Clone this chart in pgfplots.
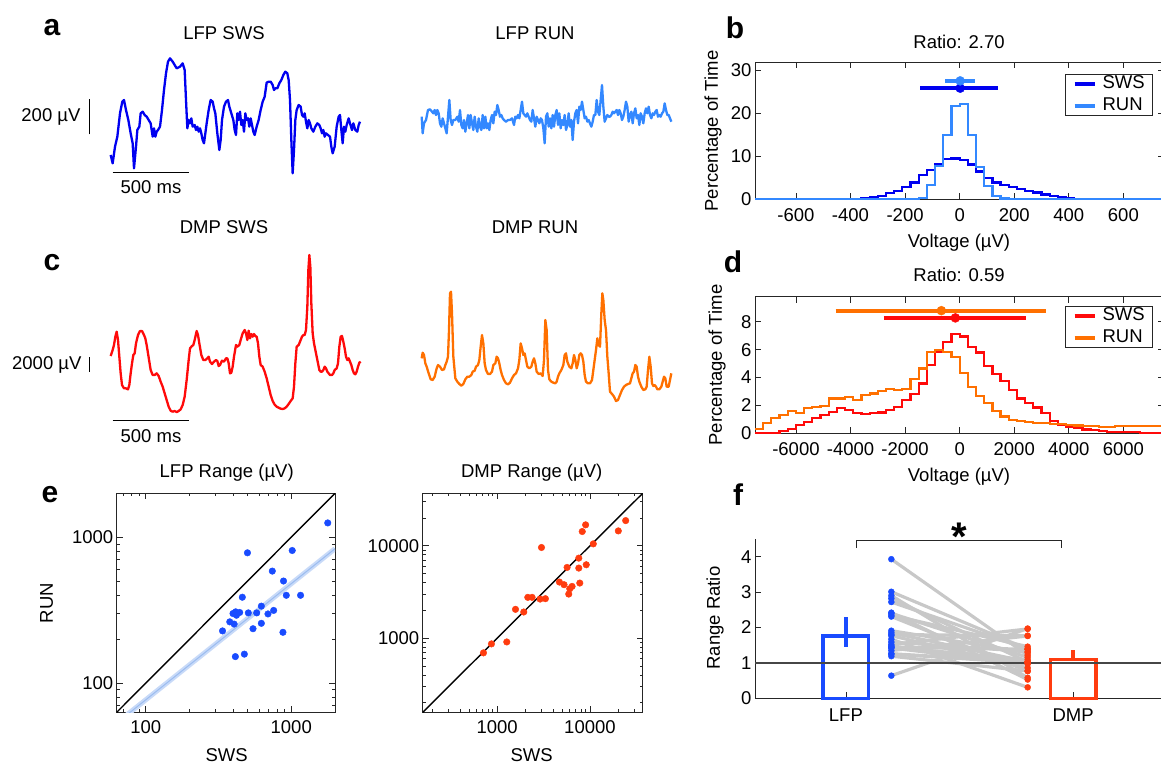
\documentclass[border=0pt]{standalone}
\usepackage{fontspec}
\setmainfont{Liberation Sans}
\usepackage{pgfplots}
\pgfplotsset{compat=1.18}

\definecolor{lfpsws}{RGB}{0,0,240}
\definecolor{lfprun}{RGB}{51,136,255}
\definecolor{dmpsws}{RGB}{255,10,10}
\definecolor{dmprun}{RGB}{255,112,0}
\definecolor{ptblue}{RGB}{25,75,255}
\definecolor{ptred}{RGB}{255,60,15}
\definecolor{regband}{RGB}{200,218,248}
\definecolor{regline}{RGB}{155,188,240}
\definecolor{axgray}{RGB}{38,38,38}
\definecolor{pairgray}{RGB}{200,200,200}
\definecolor{onegray}{RGB}{70,70,70}

\newcommand\fs{\fontsize{18.5}{21}\selectfont}
\newcommand\plab{\fontsize{30}{32}\selectfont\bfseries}

\pgfplotsset{
  mat/.style={
    scale only axis, anchor=south west,
    axis line style={draw=axgray, line width=0.8pt},
    every tick/.style={draw=axgray, line width=0.8pt},
    tick align=inside, major tick length=6pt, minor tick length=3pt,
    ticklabel style={font=\fs, text=black},
    /pgf/number format/assume math mode=true,
  },
  trace/.style={hide axis, scale only axis, anchor=south west, clip=false, xmin=0, ymin=0},
  hist/.style={const plot, line width=2.2pt, line join=miter},
  histlegend/.style={
    legend image code/.code={\draw[##1, line width=3.6pt] (0pt,0pt) -- (20pt,0pt);},
    legend cell align=left,
    legend style={anchor=north east, draw=axgray, line width=0.8pt, font=\fs,
      inner xsep=8pt, inner ysep=1pt, row sep=5pt,
      nodes={inner sep=0pt, text height=13.5pt, text depth=3.5pt},
      /tikz/every odd column/.append style={column sep=6pt}},
  },
}

\begin{document}
\begin{tikzpicture}
\path[use as bounding box] (0pt,0pt) rectangle (1161pt,-766pt);
\clip (0pt,0pt) rectangle (1161pt,-766pt);

% ---------------- a: LFP traces
\begin{axis}[trace, at={(0pt,-200pt)}, width=400pt, height=200pt, xmax=1200, ymax=600]
\addplot[lfpsws, line width=2.3pt, line join=round] coordinates {
(332,135) (338,110) (345,160) (352,190) (360,260) (367,295) (372,300) (378,270) (385,240) (392,200)
(398,170) (402,95) (408,160) (412,210) (418,220) (422,260) (428,265) (434,255) (440,250) (446,240)
(452,230) (458,190) (462,215) (466,190) (470,205) (474,210) (480,220) (486,270) (492,330) (498,380)
(504,415) (510,425) (518,415) (524,405) (530,395) (540,400) (548,410) (554,390) (558,300) (562,215)
(566,240) (570,230) (574,245) (578,220) (584,225) (588,210) (592,220) (596,205) (600,215) (604,200)
(608,180) (612,170) (616,200) (620,230) (626,270) (632,300) (638,295) (642,275) (646,260) (652,200)
(658,150) (662,180) (666,240) (672,280) (678,295) (684,300) (688,280) (694,260) (700,240) (704,210)
(708,195) (712,260) (716,240) (720,265) (724,225) (728,240) (732,205) (736,260) (740,240) (744,245)
(748,220) (752,245) (756,225) (760,205) (764,195) (770,220) (776,240) (782,270) (788,295) (794,310)
(800,352) (806,355) (812,355) (818,345) (822,330) (826,335) (832,335) (838,350) (844,360) (850,375)
(856,385) (862,380) (866,360) (870,300) (874,180) (878,80) (882,150) (886,240) (890,270) (896,285)
(902,280) (906,255) (910,250) (914,260) (918,235) (922,215) (926,240) (930,230) (934,215) (940,205)
(946,220) (952,230) (958,225) (962,215) (966,200) (970,210) (974,190) (978,200) (984,195) (990,190)
(994,160) (998,140) (1004,160) (1010,220) (1016,250) (1020,255) (1024,210) (1028,170) (1032,220) (1036,205)
(1040,225) (1046,245) (1050,230) (1056,210) (1060,230) (1066,210) (1072,205) (1076,225) (1080,235)};
\draw[black, line width=1.3pt] (axis cs:268,197) -- (axis cs:268,303);
\draw[black, line width=1.3pt] (axis cs:338,82) -- (axis cs:568,82);
\node[font=\fs, anchor=east, inner sep=0pt] at (axis cs:242,250) {200 µV};
\node[font=\fs] at (axis cs:453,40) {500 ms};
\end{axis}

\begin{axis}[trace, at={(400pt,-200pt)}, width=300pt, height=200pt, xmax=900, ymax=600]
\addplot[lfprun, line width=2.3pt, line join=round] coordinates {
(65,250) (68,200) (72,230) (78,240) (84,270) (90,272) (96,265) (100,260) (104,270) (108,255)
(112,270) (116,260) (120,230) (124,220) (128,245) (132,230) (136,215) (140,200) (144,250) (148,300)
(152,240) (156,225) (160,240) (166,240) (172,250) (176,235) (180,270) (184,225) (188,215) (192,240)
(196,205) (200,230) (204,255) (208,215) (212,255) (216,230) (220,210) (224,250) (228,220) (232,205)
(236,245) (240,220) (244,210) (248,255) (252,215) (256,250) (260,215) (264,230) (268,210) (272,240)
(276,255) (280,230) (284,265) (288,255) (292,285) (296,270) (300,250) (304,255) (308,245) (312,240)
(318,235) (324,240) (330,240) (336,245) (342,225) (346,250) (350,245) (354,255) (358,245) (362,270)
(366,295) (370,260) (374,255) (378,250) (382,260) (386,250) (390,240) (394,235) (398,270) (402,245)
(406,220) (410,250) (414,240) (418,230) (422,245) (426,240) (430,215) (434,170) (438,250) (442,260)
(446,220) (450,245) (454,215) (458,255) (462,220) (466,255) (470,270) (474,225) (478,260) (482,215)
(486,240) (490,225) (494,255) (498,210) (502,225) (506,260) (510,220) (514,240) (518,180) (522,235)
(526,260) (530,270) (534,230) (538,280) (542,270) (546,295) (550,270) (554,245) (558,250) (562,235)
(566,240) (570,230) (574,220) (578,235) (582,255) (586,255) (590,300) (594,265) (598,255) (602,300)
(606,345) (610,280) (614,235) (618,245) (622,255) (626,250) (630,250) (634,255) (638,265) (642,260)
(646,265) (650,270) (654,255) (658,270) (662,260) (666,240) (670,250) (674,270) (678,295) (682,280)
(686,235) (690,255) (694,265) (698,230) (702,260) (706,275) (710,245) (714,255) (718,225) (722,260)
(726,250) (730,230) (734,260) (738,275) (742,260) (746,280) (750,255) (754,245) (758,260) (762,255)
(766,265) (770,270) (774,250) (778,255) (782,250) (786,260) (790,265) (794,290) (798,270) (802,255)
(806,255) (810,245) (814,235)};
\end{axis}

% ---------------- c: DMP traces
\begin{axis}[trace, at={(0pt,-450pt)}, width=400pt, height=220pt, xmax=1200, ymax=660]
\addplot[dmpsws, line width=2.3pt, line join=round] coordinates {
(332,282) (338,300) (342,315) (346,340) (350,355) (354,330) (358,280) (362,230) (366,195) (372,185)
(378,185) (384,182) (388,195) (392,230) (396,260) (400,285) (404,290) (408,320) (414,345) (420,357)
(426,357) (432,345) (436,335) (440,315) (444,290) (448,265) (452,240) (458,225) (464,225) (470,230)
(476,222) (482,205) (488,190) (494,170) (500,150) (506,130) (512,118) (518,115) (524,117) (530,114)
(536,117) (542,122) (548,135) (554,160) (560,210) (566,270) (570,305) (576,312) (580,315) (584,330)
(590,357) (594,345) (598,320) (604,285) (610,270) (616,270) (622,275) (626,280) (630,265) (636,258)
(642,265) (648,270) (652,267) (656,252) (660,255) (666,268) (672,265) (678,275) (682,275) (686,260)
(690,230) (694,232) (698,250) (702,280) (708,315) (712,310) (718,315) (722,330) (728,350) (734,360)
(738,350) (742,330) (746,358) (750,335) (754,348) (758,340) (762,348) (766,342) (770,340) (774,320)
(778,280) (782,255) (788,250) (794,235) (800,215) (806,190) (812,165) (818,147) (824,136) (830,130)
(836,127) (842,124) (848,123) (854,125) (860,130) (866,138) (872,147) (878,155) (882,190) (886,260)
(890,310) (896,315) (902,330) (906,340) (910,345) (914,345) (918,360) (922,430) (925,540) (928,585)
(931,550) (934,440) (938,350) (942,320) (946,300) (950,280) (954,260) (958,240) (962,235) (966,235)
(970,240) (974,250) (978,245) (982,235) (986,230) (990,225) (996,225) (1000,230) (1004,240) (1010,245)
(1014,260) (1018,310) (1022,340) (1026,342) (1030,325) (1034,305) (1038,280) (1042,270) (1046,275) (1050,265)
(1054,255) (1058,240) (1062,230) (1066,227) (1070,235) (1074,250) (1078,262) (1082,265)};
\draw[black, line width=1.3pt] (axis cs:268,235) -- (axis cs:268,280);
\draw[black, line width=1.3pt] (axis cs:338,88) -- (axis cs:568,88);
\node[font=\fs, anchor=east, inner sep=0pt] at (axis cs:245,255) {2000 µV};
\node[font=\fs] at (axis cs:453,42) {500 ms};
\end{axis}

\begin{axis}[trace, at={(400pt,-450pt)}, width=300pt, height=220pt, xmax=900, ymax=660]
\addplot[dmprun, line width=2.3pt, line join=round] coordinates {
(65,275) (68,292) (72,285) (76,260) (80,250) (86,230) (92,212) (98,210) (104,220) (110,245)
(114,255) (120,250) (126,240) (132,242) (136,255) (140,265) (144,280) (147,360) (150,470) (153,475)
(156,410) (160,280) (166,215) (172,205) (178,198) (184,193) (190,198) (196,212) (202,220) (208,220)
(214,225) (218,235) (224,238) (228,250) (234,255) (238,270) (242,310) (246,345) (250,320) (254,260)
(258,240) (264,228) (270,228) (276,235) (280,255) (286,260) (290,280) (294,275) (298,260) (302,240)
(306,225) (312,210) (318,200) (324,197) (330,202) (336,215) (342,225) (348,230) (354,245) (358,270)
(362,320) (366,305) (370,285) (374,290) (378,270) (382,250) (388,245) (394,250) (398,265) (402,275)
(406,260) (410,235) (416,228) (422,230) (428,222) (432,270) (436,390) (440,360) (444,240) (448,212)
(454,205) (460,202) (466,200) (470,205) (474,220) (478,230) (484,240) (490,255) (494,285) (498,290)
(502,265) (508,250) (514,245) (518,260) (522,285) (526,270) (530,245) (534,260) (538,285) (542,290)
(546,285) (550,265) (554,225) (558,205) (564,200) (570,200) (576,210) (580,240) (584,270) (588,300)
(592,335) (596,315) (600,310) (604,410) (607,470) (610,450) (614,390) (618,360) (622,280) (626,230)
(630,175) (636,168) (642,160) (648,147) (654,150) (660,165) (666,180) (672,190) (678,195) (684,198)
(690,200) (694,215) (698,230) (702,235) (706,255) (710,250) (714,220) (718,205) (724,190) (730,180)
(736,182) (740,190) (744,240) (748,280) (752,250) (756,200) (760,192) (764,195) (768,190) (772,182)
(778,182) (784,190) (788,205) (792,220) (796,215) (800,190) (806,190) (810,210) (814,230)};
\end{axis}

% ---------------- b: LFP voltage histograms
\begin{axis}[mat, histlegend, at={(755pt,-199.3pt)}, width=409.3pt, height=137.3pt,
  xmin=-750, xmax=750, ymin=0, ymax=32,
  xtick={-600,-400,-200,0,200,400,600}, xticklabels={-600,-400,-200,0,200,400,600},
  ytick={0,10,20,30}, yticklabels={0,10,20,30},
  xticklabel style={yshift=-6pt},
  legend style={at={(0.9726,0.913)}},
]
\addplot[hist, lfpsws] coordinates {
(-750,0) (-450,0.1) (-360,0.3) (-330,0.45) (-300,0.8) (-270,1.4) (-240,2.0) (-210,2.8) (-180,3.9)
(-150,5.7) (-120,6.8) (-90,8.2) (-60,9.45) (-30,9.5) (0,9.2) (30,8.1) (60,6.5) (90,5.0) (120,3.9)
(150,3.3) (180,2.8) (210,2.4) (240,2.0) (270,1.6) (300,1.1) (330,0.7) (360,0.45) (390,0.2) (420,0.05)
(450,0) (750,0)};
\addlegendentry{SWS}
\addplot[hist, lfprun] coordinates {
(-750,0) (-450,0.1) (-180,0.15) (-150,0.3) (-120,3.3) (-90,7.8) (-60,14.9) (-30,21.8) (0,22.2)
(30,15) (60,7.6) (90,3.1) (120,0.8) (150,0.2) (180,0.05) (210,0) (750,0)};
\addlegendentry{RUN}
\addplot[lfpsws, line width=3.8pt, forget plot] coordinates {(-144,25.9) (142,25.9)};
\addplot[lfpsws, only marks, mark=*, mark size=4.5pt, forget plot] coordinates {(2,25.9)};
\addplot[lfprun, line width=3.8pt, forget plot] coordinates {(-52,27.6) (57,27.6)};
\addplot[lfprun, only marks, mark=*, mark size=4.5pt, forget plot] coordinates {(2,27.6)};
\end{axis}

% ---------------- d: DMP voltage histograms
\begin{axis}[mat, histlegend, at={(755pt,-433.3pt)}, width=409.3pt, height=136.6pt,
  xmin=-7500, xmax=7500, ymin=0, ymax=9.8,
  xtick={-6000,-4000,-2000,0,2000,4000,6000}, xticklabels={-6000,-4000,-2000,0,2000,4000,6000},
  ytick={0,2,4,6,8}, yticklabels={0,2,4,6,8},
  xticklabel style={yshift=-6pt},
  legend style={at={(0.9726,0.932)}},
]
\addplot[hist, dmpsws] coordinates {
(-7500,0) (-6900,0.05) (-6600,0.17) (-6300,0.29) (-6000,0.6) (-5700,0.84) (-5400,1.07) (-5100,1.31)
(-4800,1.55) (-4500,1.79) (-4200,1.67) (-3900,1.48) (-3600,1.38) (-3300,1.43) (-3000,1.5) (-2700,1.67)
(-2400,1.9) (-2100,2.39) (-1800,2.8) (-1500,3.58) (-1200,4.9) (-900,5.85) (-600,6.56) (-300,7.1)
(0,6.95) (300,6.2) (600,5.8) (900,4.85) (1200,4.25) (1500,3.75) (1800,3.1) (2100,2.5) (2400,2.2)
(2700,1.85) (3000,1.43) (3300,0.9) (3600,0.63) (3900,0.45) (4200,0.36) (4500,0.28) (4800,0.22)
(5100,0.16) (5400,0.12) (5700,0.1) (6000,0.07) (6600,0.05) (7500,0.05)};
\addlegendentry{SWS}
\addplot[hist, dmprun] coordinates {
(-7500,0.29) (-7200,0.72) (-6900,1.07) (-6600,1.31) (-6300,1.6) (-6000,1.48) (-5700,1.79) (-5400,1.9)
(-5100,1.96) (-4800,2.5) (-4500,2.5) (-4200,2.6) (-3900,2.4) (-3600,2.75) (-3300,2.85) (-3000,3.05)
(-2700,3.2) (-2400,3.1) (-2100,3.2) (-1800,3.9) (-1500,4.65) (-1200,5.85) (-900,6.0) (-600,5.85)
(-300,5.45) (0,4.35) (300,3.3) (600,2.7) (900,2.2) (1200,1.6) (1500,1.2) (1800,0.98) (2100,0.88)
(2400,0.8) (2700,0.76) (3000,0.72) (3300,0.68) (3600,0.64) (3900,0.6) (4200,0.56) (4500,0.52)
(4800,0.5) (5100,0.48) (5400,0.48) (5700,0.5) (6000,0.52) (6300,0.54) (6600,0.55) (6900,0.55)
(7200,0.55) (7500,0.55)};
\addlegendentry{RUN}
\addplot[dmpsws, line width=3.8pt, forget plot] coordinates {(-2780,8.28) (2430,8.28)};
\addplot[dmpsws, only marks, mark=*, mark size=4.5pt, forget plot] coordinates {(-157,8.28)};
\addplot[dmprun, line width=3.8pt, forget plot] coordinates {(-4550,8.8) (3160,8.8)};
\addplot[dmprun, only marks, mark=*, mark size=4.5pt, forget plot] coordinates {(-670,8.8)};
\end{axis}

% ---------------- e: range scatter, LFP
\begin{axis}[mat, xmode=log, ymode=log, at={(116.7pt,-712.3pt)}, width=218.3pt, height=219pt,
  xmin=63.1, xmax=2000, ymin=63.1, ymax=2000,
  xtick={100,1000}, xticklabels={100,1000}, ytick={100,1000}, yticklabels={100,1000},
  minor xtick={70,80,90,200,300,400,500,600,700,800,900},
  minor ytick={70,80,90,200,300,400,500,600,700,800,900},
  xticklabel style={yshift=-5pt},
]
\addplot[regband, line width=5pt] coordinates {(63.1,53.3) (2000,834)};
\addplot[regline, line width=1pt] coordinates {(63.1,53.3) (2000,834)};
\addplot[black, line width=1.4pt] coordinates {(63.1,63.1) (2000,2000)};
\addplot[ptblue, only marks, mark=*, mark size=3.3pt] coordinates {
(1783,1253) (500,782) (1016,811) (741,586) (885,501) (925,400) (1159,400) (461,388) (623,337)
(757,315) (692,298) (579,303) (507,303) (442,305) (415,308) (420,292) (378,263) (405,254) (337,228)
(623,257) (546,236) (877,223) (413,152) (476,158) (398,300)};
\end{axis}

% ---------------- e: range scatter, DMP
\begin{axis}[mat, xmode=log, ymode=log, at={(422.7pt,-712.3pt)}, width=220pt, height=219pt,
  xmin=158, xmax=37000, ymin=158, ymax=37000,
  xtick={1000,10000}, xticklabels={1000,10000}, ytick={1000,10000}, yticklabels={1000,10000},
  minor xtick={200,300,400,500,600,700,800,900,2000,3000,4000,5000,6000,7000,8000,9000,20000,30000},
  minor ytick={200,300,400,500,600,700,800,900,2000,3000,4000,5000,6000,7000,8000,9000,20000,30000},
  xticklabel style={yshift=-5pt},
]
\addplot[black, line width=1.4pt] coordinates {(158,158) (37000,37000)};
\addplot[ptred, only marks, mark=*, mark size=3.3pt] coordinates {
(713,695) (869,869) (1271,912) (1578,2055) (1937,1923) (2140,2770) (2382,2770) (2904,2654)
(3313,2680) (3006,9594) (4688,4055) (5260,3796) (5670,5837) (5910,3006) (6060,3433) (6420,3640)
(7580,7360) (7580,5745) (7770,3955) (8260,14280) (8980,16870) (9120,6240) (10860,10500)
(20200,14500) (24250,18750)};
\end{axis}

% ---------------- f: range ratio
\begin{axis}[mat, at={(755pt,-698.3pt)}, width=409pt, height=159.3pt,
  xmin=0.6, xmax=2.4, ymin=0, ymax=4.5,
  axis x line*=bottom, axis y line*=left, clip=false,
  xtick={1,2}, xticklabels={LFP,DMP}, ytick={0,1,2,3,4}, yticklabels={0,1,2,3,4},
  xticklabel style={yshift=-7pt},
]
\addplot[pairgray, line width=3.2pt] coordinates {(1.2,3.93) (1.8,1.22)};
\addplot[pairgray, line width=3.2pt] coordinates {(1.2,3.01) (1.8,1.39)};
\addplot[pairgray, line width=3.2pt] coordinates {(1.2,2.90) (1.8,0.58)};
\addplot[pairgray, line width=3.2pt] coordinates {(1.2,2.82) (1.8,1.03)};
\addplot[pairgray, line width=3.2pt] coordinates {(1.2,2.72) (1.8,1.39)};
\addplot[pairgray, line width=3.2pt] coordinates {(1.2,2.42) (1.8,0.53)};
\addplot[pairgray, line width=3.2pt] coordinates {(1.2,2.40) (1.8,1.16)};
\addplot[pairgray, line width=3.2pt] coordinates {(1.2,2.35) (1.8,1.46)};
\addplot[pairgray, line width=3.2pt] coordinates {(1.2,2.31) (1.8,0.77)};
\addplot[pairgray, line width=3.2pt] coordinates {(1.2,1.91) (1.8,1.29)};
\addplot[pairgray, line width=3.2pt] coordinates {(1.2,1.85) (1.8,1.03)};
\addplot[pairgray, line width=3.2pt] coordinates {(1.2,1.80) (1.8,1.77)};
\addplot[pairgray, line width=3.2pt] coordinates {(1.2,1.77) (1.8,0.86)};
\addplot[pairgray, line width=3.2pt] coordinates {(1.2,1.67) (1.8,0.31)};
\addplot[pairgray, line width=3.2pt] coordinates {(1.2,1.59) (1.8,1.32)};
\addplot[pairgray, line width=3.2pt] coordinates {(1.2,1.52) (1.8,1.96)};
\addplot[pairgray, line width=3.2pt] coordinates {(1.2,1.48) (1.8,1.01)};
\addplot[pairgray, line width=3.2pt] coordinates {(1.2,1.45) (1.8,1.09)};
\addplot[pairgray, line width=3.2pt] coordinates {(1.2,1.44) (1.8,1.39)};
\addplot[pairgray, line width=3.2pt] coordinates {(1.2,1.42) (1.8,0.97)};
\addplot[pairgray, line width=3.2pt] coordinates {(1.2,1.35) (1.8,1.76)};
\addplot[pairgray, line width=3.2pt] coordinates {(1.2,1.26) (1.8,1.03)};
\addplot[pairgray, line width=3.2pt] coordinates {(1.2,1.25) (1.8,1.00)};
\addplot[pairgray, line width=3.2pt] coordinates {(1.2,1.19) (1.8,0.77)};
\addplot[pairgray, line width=3.2pt] coordinates {(1.2,0.64) (1.8,1.97)};
\addplot[ptblue, only marks, mark=*, mark size=3pt] coordinates {
(1.2,3.93) (1.2,3.01) (1.2,2.90) (1.2,2.82) (1.2,2.72) (1.2,2.42) (1.2,2.40) (1.2,2.35) (1.2,2.31)
(1.2,1.91) (1.2,1.85) (1.2,1.80) (1.2,1.77) (1.2,1.67) (1.2,1.59) (1.2,1.52) (1.2,1.48) (1.2,1.45)
(1.2,1.44) (1.2,1.42) (1.2,1.35) (1.2,1.26) (1.2,1.25) (1.2,1.19) (1.2,0.64)};
\addplot[ptred, only marks, mark=*, mark size=3pt] coordinates {
(1.8,1.22) (1.8,1.39) (1.8,0.58) (1.8,1.03) (1.8,1.39) (1.8,0.53) (1.8,1.16) (1.8,1.46) (1.8,0.77)
(1.8,1.29) (1.8,1.03) (1.8,1.77) (1.8,0.86) (1.8,0.31) (1.8,1.32) (1.8,1.96) (1.8,1.01) (1.8,1.09)
(1.8,1.39) (1.8,0.97) (1.8,1.76) (1.8,1.03) (1.8,1.00) (1.8,0.77) (1.8,1.97)};
\addplot[ybar, bar width=0.2, draw=ptblue, fill=none, line width=3.6pt] coordinates {(1,1.76)};
\addplot[ybar, bar width=0.2, draw=ptred, fill=none, line width=3.6pt] coordinates {(2,1.1)};
\addplot[ptblue, line width=3.6pt] coordinates {(1,1.46) (1,2.29)};
\addplot[ptred, line width=3.6pt] coordinates {(2,1.1) (2,1.36)};
\addplot[onegray, line width=2.2pt] coordinates {(0.6,1) (2.4,1)};
\draw[axgray, line width=1pt] (axis cs:1.048,4.24) -- (axis cs:1.048,4.45) -- (axis cs:1.949,4.45) -- (axis cs:1.949,4.24);
\end{axis}

% ---------------- text
\node[font=\plab] at (52pt,-28pt) {a};
\node[font=\plab] at (735pt,-28pt) {b};
\node[font=\plab] at (52pt,-263pt) {c};
\node[font=\plab] at (733pt,-262pt) {d};
\node[font=\plab] at (50pt,-495pt) {e};
\node[font=\plab] at (738pt,-495pt) {f};

\node[font=\fs] at (224pt,-33pt) {LFP SWS};
\node[font=\fs] at (535pt,-33pt) {LFP RUN};
\node[font=\fs] at (224pt,-227pt) {DMP SWS};
\node[font=\fs] at (535pt,-227pt) {DMP RUN};

\node[font=\fs] at (959pt,-42pt) {Ratio: 2.70};
\node[font=\fs, rotate=90] at (713pt,-131pt) {Percentage of Time};
\node[font=\fs] at (959pt,-243pt) {Voltage (µV)};
\node[font=\fs] at (959pt,-275pt) {Ratio: 0.59};
\node[font=\fs, rotate=90] at (717pt,-365pt) {Percentage of Time};
\node[font=\fs] at (959pt,-477pt) {Voltage (µV)};

\node[font=\fs] at (226.7pt,-472.7pt) {LFP Range (µV)};
\node[font=\fs] at (531.7pt,-472.7pt) {DMP Range (µV)};
\node[font=\fs, rotate=90] at (46.7pt,-603pt) {RUN};
\node[font=\fs] at (226.7pt,-755pt) {SWS};
\node[font=\fs] at (531.7pt,-755pt) {SWS};

\node[font=\fs, rotate=90] at (715pt,-618pt) {Range Ratio};
\node[font=\fontsize{40}{40}\selectfont\bfseries] at (959pt,-537pt) {*};
\end{tikzpicture}
\end{document}
